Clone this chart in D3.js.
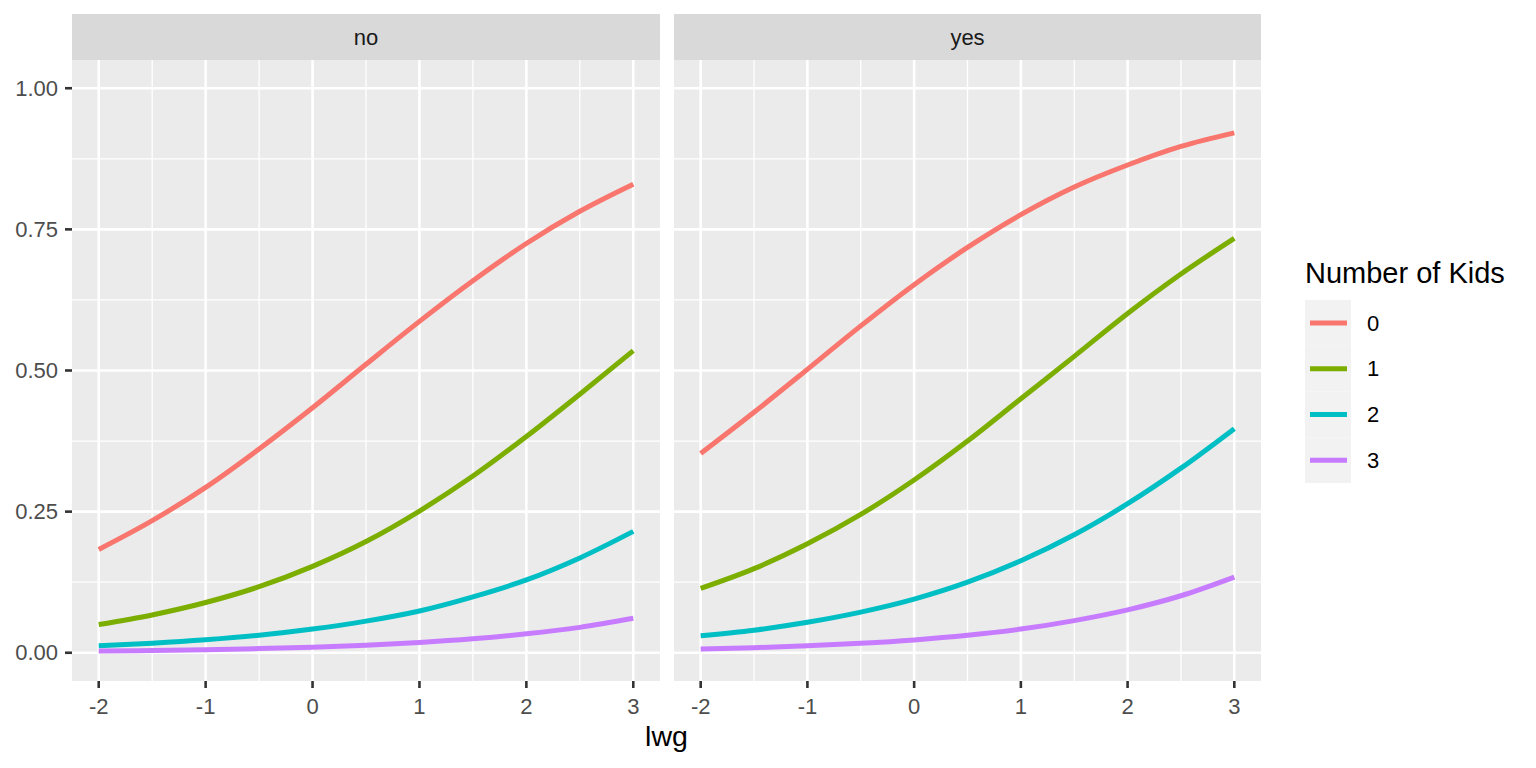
<!DOCTYPE html>
<html>
<head>
<meta charset="utf-8">
<script src="https://cdn.jsdelivr.net/npm/d3@7"></script>
<style>
  html, body { margin: 0; padding: 0; background: #fff; }
  svg { display: block; font-family: "Liberation Sans", Arial, sans-serif; }
</style>
</head>
<body>
<script>
// lwg grid the predictions were read at
const lwg = [-2, -1.5, -1, -0.5, 0, 0.5, 1, 1.5, 2, 2.5, 3];

const facets = ['no', 'yes'];
const kids = ['0', '1', '2', '3'];
const kidColors = ['#F8766D', '#7CAE00', '#00BFC4', '#C77CFF'];

// predicted probability, facet "no"
const no0 = [0.183, 0.234, 0.293, 0.361, 0.434, 0.511, 0.587, 0.659, 0.725, 0.782, 0.830];
const no1 = [0.050, 0.067, 0.089, 0.117, 0.153, 0.197, 0.251, 0.313, 0.383, 0.458, 0.535];
const no2 = [0.0125, 0.017, 0.023, 0.031, 0.042, 0.056, 0.074, 0.099, 0.129, 0.168, 0.215];
const no3 = [0.003, 0.004, 0.0054, 0.0074, 0.010, 0.0135, 0.0183, 0.0248, 0.0335, 0.045, 0.061];

// predicted probability, facet "yes"
const yes0 = [0.353, 0.426, 0.502, 0.579, 0.652, 0.718, 0.776, 0.825, 0.864, 0.897, 0.921];
const yes1 = [0.114, 0.149, 0.193, 0.245, 0.306, 0.375, 0.450, 0.525, 0.601, 0.671, 0.734];
const yes2 = [0.030, 0.040, 0.054, 0.072, 0.095, 0.125, 0.163, 0.209, 0.264, 0.327, 0.397];
const yes3 = [0.0066, 0.0090, 0.0123, 0.0168, 0.0228, 0.031, 0.042, 0.057, 0.076, 0.101, 0.134];

const xTicks = [-2, -1, 0, 1, 2, 3];
const xMinor = [-1.5, -0.5, 0.5, 1.5, 2.5];
const yTicks = [0, 0.25, 0.5, 0.75, 1];
const yMinor = [0.125, 0.375, 0.625, 0.875];

const series = {
  no: [no0, no1, no2, no3],
  yes: [yes0, yes1, yes2, yes3]
};

const W = 1536, H = 768;
const panelTop = 60, panelBottom = 681;
const stripTop = 14;
const panels = [[72, 660], [674, 1261]];

const svg = d3.select(document.body).append('svg')
  .attr('width', W)
  .attr('height', H);

const y = d3.scaleLinear().domain([-0.05, 1.05]).range([panelBottom, panelTop]);

facets.forEach((f, fi) => {
  const [left, right] = panels[fi];
  const x = d3.scaleLinear().domain([-2.25, 3.25]).range([left, right]);
  const g = svg.append('g');

  // panel background
  g.append('rect')
    .attr('x', left).attr('y', panelTop)
    .attr('width', right - left).attr('height', panelBottom - panelTop)
    .attr('fill', '#EBEBEB');

  // minor grid
  g.selectAll('.yminor').data(yMinor).enter().append('line')
    .attr('x1', left).attr('x2', right)
    .attr('y1', d => y(d)).attr('y2', d => y(d))
    .attr('stroke', '#fff').attr('stroke-width', 1.3);
  g.selectAll('.xminor').data(xMinor).enter().append('line')
    .attr('x1', d => x(d)).attr('x2', d => x(d))
    .attr('y1', panelTop).attr('y2', panelBottom)
    .attr('stroke', '#fff').attr('stroke-width', 1.3);

  // major grid
  g.selectAll('.ymajor').data(yTicks).enter().append('line')
    .attr('x1', left).attr('x2', right)
    .attr('y1', d => y(d)).attr('y2', d => y(d))
    .attr('stroke', '#fff').attr('stroke-width', 2.6);
  g.selectAll('.xmajor').data(xTicks).enter().append('line')
    .attr('x1', d => x(d)).attr('x2', d => x(d))
    .attr('y1', panelTop).attr('y2', panelBottom)
    .attr('stroke', '#fff').attr('stroke-width', 2.6);

  // strip
  g.append('rect')
    .attr('x', left).attr('y', stripTop)
    .attr('width', right - left).attr('height', panelTop - stripTop)
    .attr('fill', '#D9D9D9');
  g.append('text')
    .attr('x', (left + right) / 2).attr('y', (stripTop + panelTop) / 2)
    .attr('dy', '0.35em')
    .attr('text-anchor', 'middle')
    .attr('font-size', 22)
    .attr('fill', '#1A1A1A')
    .text(f);

  // lines
  const line = d3.line()
    .x((d, i) => x(lwg[i]))
    .y(d => y(d))
    .curve(d3.curveMonotoneX);
  series[f].forEach((vals, k) => {
    g.append('path')
      .attr('d', line(vals))
      .attr('fill', 'none')
      .attr('stroke', kidColors[k])
      .attr('stroke-width', 5)
      .attr('stroke-linecap', 'butt');
  });

  // x axis
  const xAxis = g.append('g');
  xAxis.selectAll('line').data(xTicks).enter().append('line')
    .attr('x1', d => x(d)).attr('x2', d => x(d))
    .attr('y1', panelBottom).attr('y2', panelBottom + 7)
    .attr('stroke', '#333').attr('stroke-width', 2.6);
  xAxis.selectAll('text').data(xTicks).enter().append('text')
    .attr('x', d => x(d)).attr('y', 714)
    .attr('text-anchor', 'middle')
    .attr('font-size', 22)
    .attr('fill', '#4D4D4D')
    .text(d => String(d));

  // y axis only on first panel
  if (fi === 0) {
    const yAxis = g.append('g');
    yAxis.selectAll('line').data(yTicks).enter().append('line')
      .attr('x1', left - 7).attr('x2', left)
      .attr('y1', d => y(d)).attr('y2', d => y(d))
      .attr('stroke', '#333').attr('stroke-width', 2.6);
    yAxis.selectAll('text').data(yTicks).enter().append('text')
      .attr('x', left - 14).attr('y', d => y(d))
      .attr('dy', '0.35em')
      .attr('text-anchor', 'end')
      .attr('font-size', 22)
      .attr('fill', '#4D4D4D')
      .text(d => d3.format('.2f')(d));
  }
});

// axis title
svg.append('text')
  .attr('x', (panels[0][0] + panels[1][1]) / 2).attr('y', 746)
  .attr('text-anchor', 'middle')
  .attr('font-size', 28.5)
  .attr('fill', '#000')
  .text('lwg');

// legend
const legend = svg.append('g');
legend.append('text')
  .attr('x', 1305).attr('y', 283)
  .attr('font-size', 29)
  .attr('fill', '#000')
  .text('Number of Kids');

const keyTop = 300, keyH = 45.75, keyW = 46;
kids.forEach((k, i) => {
  const ky = keyTop + i * keyH;
  legend.append('rect')
    .attr('x', 1305).attr('y', ky)
    .attr('width', keyW).attr('height', keyH)
    .attr('fill', '#F2F2F2');
  legend.append('line')
    .attr('x1', 1310).attr('x2', 1347)
    .attr('y1', ky + keyH / 2).attr('y2', ky + keyH / 2)
    .attr('stroke', kidColors[i]).attr('stroke-width', 5);
  legend.append('text')
    .attr('x', 1367).attr('y', ky + keyH / 2)
    .attr('dy', '0.35em')
    .attr('font-size', 22)
    .attr('fill', '#000')
    .text(k);
});
</script>
</body>
</html>
